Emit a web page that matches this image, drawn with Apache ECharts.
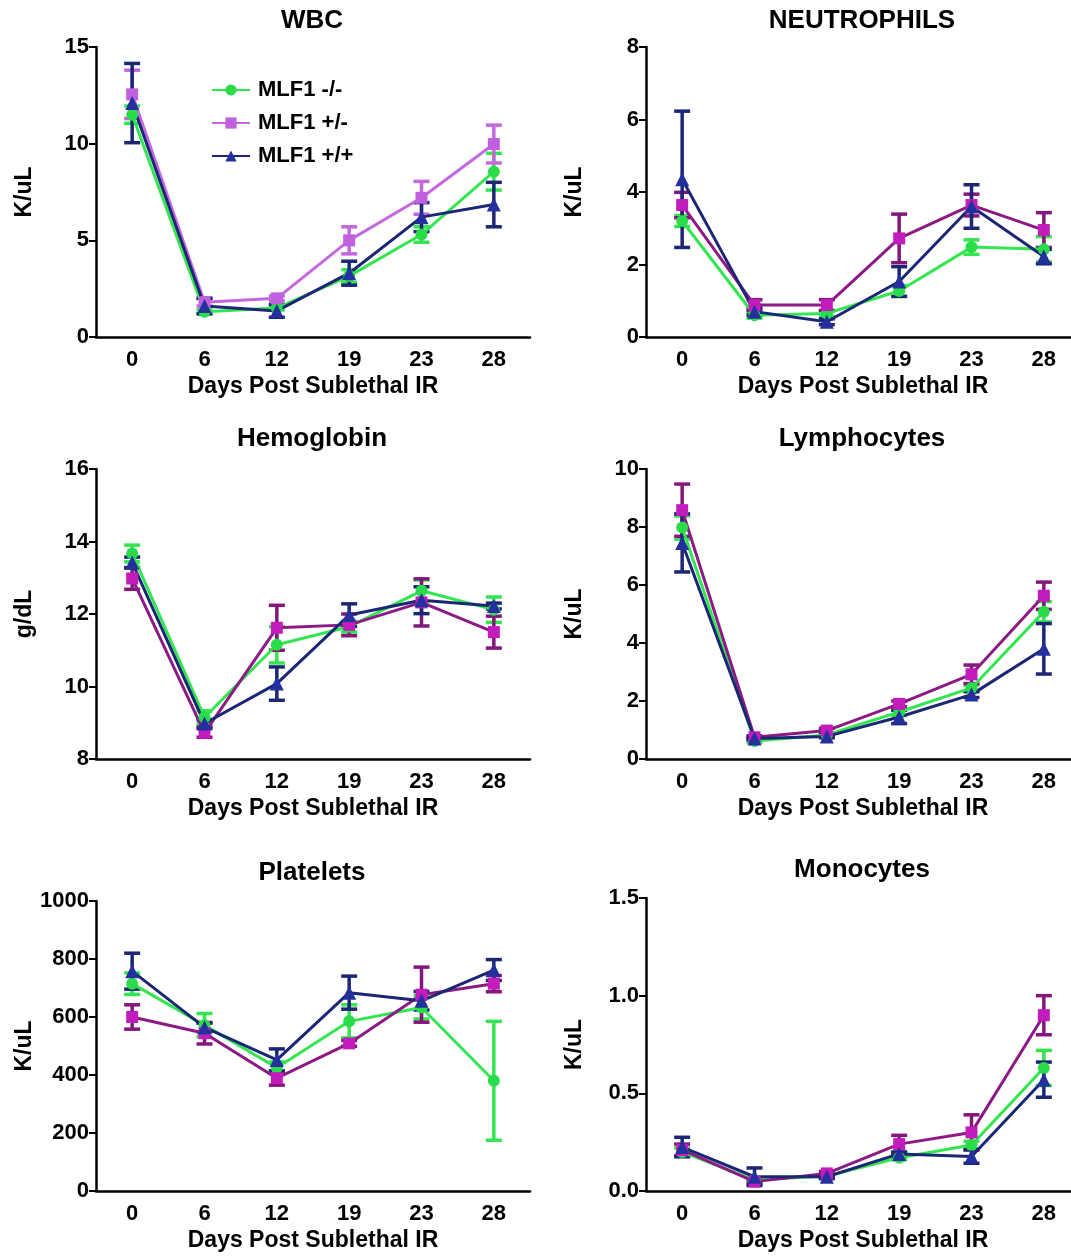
<!DOCTYPE html>
<html>
<head>
<meta charset="utf-8">
<title>MLF1 blood counts</title>
<script src="https://cdn.jsdelivr.net/npm/echarts@6/dist/echarts.min.js"></script>
<style>
  html, body { margin: 0; padding: 0; background: #fff; }
  #main { width: 1071px; height: 1258px; }
</style>
</head>
<body>
<div id="main"></div>
<script>
// x categories
var days = ['0', '6', '12', '19', '23', '28'];
var groupNames = ['MLF1 -/-', 'MLF1 +/-', 'MLF1 +/+'];

// WBC (K/uL)
var wbcKO = [11.5, 1.3, 1.5, 3.15, 5.3, 8.55];
var wbcKOErr = [0.45, 0.1, 0.1, 0.33, 0.4, 0.95];
var wbcHet = [12.55, 1.8, 2.0, 5.0, 7.2, 9.98];
var wbcHetErr = [1.25, 0.2, 0.12, 0.7, 0.85, 0.98];
var wbcWT = [12.1, 1.6, 1.35, 3.3, 6.2, 6.85];
var wbcWTErr = [2.05, 0.4, 0.33, 0.62, 0.75, 1.15];

// Neutrophils (K/uL)
var neuKO = [3.2, 0.6, 0.65, 1.27, 2.48, 2.42];
var neuKOErr = [0.15, 0.08, 0.08, 0.15, 0.2, 0.35];
var neuHet = [3.64, 0.88, 0.88, 2.72, 3.64, 2.95];
var neuHetErr = [0.35, 0.15, 0.15, 0.67, 0.3, 0.48];
var neuWT = [4.35, 0.7, 0.42, 1.53, 3.6, 2.22];
var neuWTErr = [1.88, 0.1, 0.08, 0.41, 0.6, 0.2];

// Hemoglobin (g/dL)
var hgbKO = [13.67, 9.15, 11.15, 11.65, 12.64, 12.12];
var hgbKOErr = [0.23, 0.18, 0.5, 0.15, 0.3, 0.35];
var hgbHet = [12.98, 8.72, 11.62, 11.7, 12.32, 11.5];
var hgbHetErr = [0.3, 0.12, 0.62, 0.3, 0.65, 0.44];
var hgbWT = [13.42, 8.98, 10.08, 11.97, 12.38, 12.22];
var hgbWTErr = [0.15, 0.1, 0.46, 0.31, 0.37, 0.08];

// Lymphocytes (K/uL)
var lymKO = [7.98, 0.62, 0.83, 1.62, 2.45, 5.08];
var lymKOErr = [0.4, 0.05, 0.05, 0.12, 0.1, 0.35];
var lymHet = [8.58, 0.75, 0.98, 1.9, 2.92, 5.63];
var lymHetErr = [0.9, 0.05, 0.08, 0.1, 0.32, 0.47];
var lymWT = [7.45, 0.71, 0.78, 1.45, 2.22, 3.8];
var lymWTErr = [1.0, 0.05, 0.05, 0.23, 0.1, 0.87];

// Platelets (K/uL)
var pltKO = [715, 572, 425, 585, 633, 380];
var pltKOErr = [37, 40, 20, 57, 40, 205];
var pltHet = [600, 544, 389, 509, 677, 715];
var pltHetErr = [42, 37, 24, 10, 95, 28];
var pltWT = [758, 564, 452, 684, 656, 762];
var pltWTErr = [62, 15, 38, 57, 32, 36];

// Monocytes (K/uL)
var monKO = [0.2, 0.056, 0.077, 0.17, 0.235, 0.63];
var monKOErr = [0.02, 0.01, 0.01, 0.01, 0.02, 0.09];
var monHet = [0.21, 0.048, 0.09, 0.24, 0.3, 0.9];
var monHetErr = [0.03, 0.01, 0.01, 0.045, 0.09, 0.1];
var monWT = [0.225, 0.073, 0.073, 0.19, 0.177, 0.57];
var monWTErr = [0.05, 0.045, 0.01, 0.01, 0.035, 0.09];

var FONT = '"Liberation Sans", Arial, Helvetica, sans-serif';

// colours: [line, marker, errorbar]
var green = ['#33e650', '#2bdc4a', '#33e650'];
var lilac = ['#c468e0', '#c060de', '#c468e0'];
var plum = ['#8c1a84', '#c21cbc', '#84167c'];
var navy = ['#1b2675', '#23309e', '#1b2675'];

// right column runs a little past the page edge, like the source figure
var panels = [
  { title: 'WBC', unit: 'K/uL', left: 96, top: 47, h: 290, min: 0, max: 15, step: 5,
    sets: [[wbcKO, wbcKOErr, green], [wbcHet, wbcHetErr, lilac], [wbcWT, wbcWTErr, navy]] },
  { title: 'NEUTROPHILS', unit: 'K/uL', left: 646, top: 47, h: 290, min: 0, max: 8, step: 2,
    sets: [[neuKO, neuKOErr, green], [neuHet, neuHetErr, plum], [neuWT, neuWTErr, navy]] },
  { title: 'Hemoglobin', unit: 'g/dL', left: 96, top: 469, h: 290, min: 8, max: 16, step: 2,
    sets: [[hgbKO, hgbKOErr, green], [hgbHet, hgbHetErr, plum], [hgbWT, hgbWTErr, navy]] },
  { title: 'Lymphocytes', unit: 'K/uL', left: 646, top: 469, h: 290, min: 0, max: 10, step: 2,
    sets: [[lymKO, lymKOErr, green], [lymHet, lymHetErr, plum], [lymWT, lymWTErr, navy]] },
  { title: 'Platelets', unit: 'K/uL', left: 96, top: 901, h: 290, min: 0, max: 1000, step: 200,
    sets: [[pltKO, pltKOErr, green], [pltHet, pltHetErr, plum], [pltWT, pltWTErr, navy]] },
  { title: 'Monocytes', unit: 'K/uL', left: 646, top: 898, h: 293, min: 0, max: 1.5, step: 0.5, dec: 1,
    sets: [[monKO, monKOErr, green], [monHet, monHetErr, plum], [monWT, monWTErr, navy]] }
];
var titleTops = [8, 8, 426, 426, 860, 857];
var symbols = ['circle', 'rect', 'triangle'];
var symbolSizes = [12, 12, 14];

function errRender(color) {
  return function (params, api) {
    var x = api.value(0);
    var lo = api.coord([x, api.value(1)]);
    var hi = api.coord([x, api.value(2)]);
    var w = 8;
    var st = { stroke: color, lineWidth: 3.5 };
    return {
      type: 'group',
      children: [
        { type: 'line', shape: { x1: hi[0], y1: hi[1], x2: lo[0], y2: lo[1] }, style: st },
        { type: 'line', shape: { x1: hi[0] - w, y1: hi[1], x2: hi[0] + w, y2: hi[1] }, style: st },
        { type: 'line', shape: { x1: lo[0] - w, y1: lo[1], x2: lo[0] + w, y2: lo[1] }, style: st }
      ]
    };
  };
}

var grids = [], xAxes = [], yAxes = [], series = [], titles = [];
panels.forEach(function (p, k) {
  grids.push({ left: p.left, top: p.top, width: 434, height: p.h, outerBoundsMode: 'none', containLabel: false });
  titles.push({
    text: p.title, left: p.left + 216, top: titleTops[k], textAlign: 'center', padding: 0,
    textStyle: { fontFamily: FONT, fontSize: 26, fontWeight: 'bold', color: '#000' }
  });
  xAxes.push({
    type: 'category', gridIndex: k, data: days, boundaryGap: true,
    name: 'Days Post Sublethal IR', nameLocation: 'middle', nameGap: 38,
    nameTextStyle: { fontFamily: FONT, fontSize: 23, fontWeight: 'bold', color: '#000' },
    axisLine: { lineStyle: { color: '#000', width: 2.5 } },
    axisTick: { alignWithLabel: true, length: 7, lineStyle: { color: '#000', width: 2 } },
    axisLabel: { margin: 12, fontFamily: FONT, fontSize: 22, fontWeight: 'bold', color: '#000' }
  });
  yAxes.push({
    type: 'value', gridIndex: k, min: p.min, max: p.max, interval: p.step,
    name: p.unit, nameLocation: 'middle', nameGap: 60,
    nameTextStyle: { fontFamily: FONT, fontSize: 23, fontWeight: 'bold', color: '#000' },
    axisLine: { show: true, lineStyle: { color: '#000', width: 2.5 } },
    axisTick: { show: true, length: 7, lineStyle: { color: '#000', width: 2 } },
    splitLine: { show: false },
    axisLabel: {
      margin: 7, fontFamily: FONT, fontSize: 22, fontWeight: 'bold', color: '#000',
      formatter: function (v) { return p.dec ? v.toFixed(p.dec) : String(v); }
    }
  });
  p.sets.forEach(function (s, g) {
    var mean = s[0], err = s[1], col = s[2];
    series.push({
      type: 'custom', name: 'err' + k + '_' + g, xAxisIndex: k, yAxisIndex: k,
      renderItem: errRender(col[2]),
      encode: { x: 0, y: [1, 2] },
      data: mean.map(function (m, i) { return [i, m - err[i], m + err[i]]; }),
      silent: true, animation: false
    });
    series.push({
      type: 'line', name: groupNames[g], xAxisIndex: k, yAxisIndex: k,
      data: mean, symbol: symbols[g], symbolSize: symbolSizes[g], showSymbol: true,
      lineStyle: { color: col[0], width: 3 },
      itemStyle: { color: col[1], borderWidth: 0 },
      animation: false
    });
  });
});

var chart = echarts.init(document.getElementById('main'), null, { renderer: 'canvas' });
chart.setOption({
  backgroundColor: '#fff',
  animation: false,
  title: titles,
  legend: {
    data: groupNames, orient: 'vertical', left: 206, top: 74, itemGap: 11,
    itemWidth: 38, itemHeight: 14, selectedMode: false,
    textStyle: { fontFamily: FONT, fontSize: 22, fontWeight: 'bold', color: '#000', padding: [0, 0, 0, 3] }
  },
  grid: grids,
  xAxis: xAxes,
  yAxis: yAxes,
  series: series
});
</script>
</body>
</html>
